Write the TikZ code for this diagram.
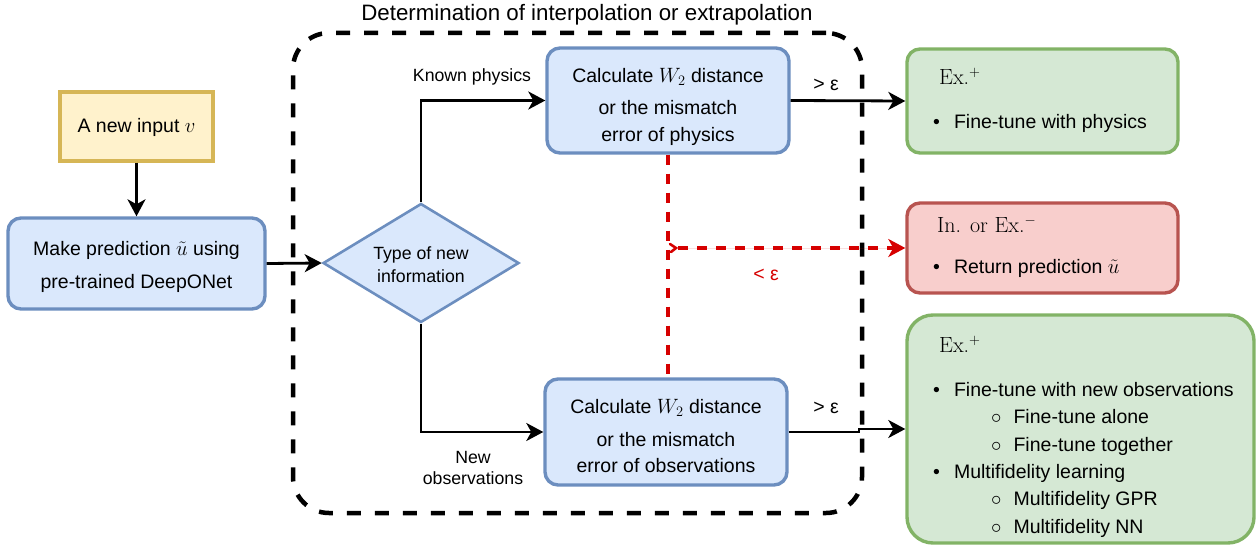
\documentclass[tikz,border=0pt]{standalone}
\usepackage{fontspec}
\setsansfont{Liberation Sans}
\usetikzlibrary{shapes.geometric,arrows.meta,calc}

\definecolor{blueFill}{HTML}{DAE8FC}
\definecolor{blueLine}{HTML}{6C8EBF}
\definecolor{yellowFill}{HTML}{FFF2CC}
\definecolor{yellowLine}{HTML}{D6B656}
\definecolor{greenFill}{HTML}{D5E8D4}
\definecolor{greenLine}{HTML}{82B366}
\definecolor{redFill}{HTML}{F8CECC}
\definecolor{redLine}{HTML}{B85450}
\definecolor{flowRed}{HTML}{D60000}

\begin{document}
\begin{tikzpicture}[x=1pt,y=-1pt,
  font=\sffamily\fontsize{19.5}{27}\selectfont,
  box/.style={draw, line width=3.4pt, rounded corners=13pt, inner sep=0pt},
  bluebox/.style={box, draw=blueLine, fill=blueFill},
  yellowbox/.style={box, rounded corners=0pt, draw=yellowLine, fill=yellowFill},
  greenbox/.style={box, draw=greenLine, fill=greenFill},
  redbox/.style={box, draw=redLine, fill=redFill},
  decision/.style={diamond, draw=blueLine, fill=blueFill, line width=2.6pt, inner sep=0pt,
    aspect=1.65},
  % text set on a known baseline
  txt/.style={anchor=base, inner sep=0pt},
  ltxt/.style={anchor=base west, inner sep=0pt},
  % multi-line text whose first baseline sits 20pt below the anchor
  block/.style={anchor=north, align=center, inner sep=0pt},
  small/.style={font=\sffamily\fontsize{17.7}{22}\selectfont},
  head/.style={font=\rmfamily\fontsize{22}{26}\selectfont},
  tip/.style={-{Stealth[length=17pt,width=18pt,inset=5pt]}},
  arr/.style={line width=2.8pt, tip},
  redarr/.style={line width=3.2pt, draw=flowRed, dash pattern=on 10pt off 9pt},
  frame/.style={draw, line width=4.5pt, dash pattern=on 14pt off 14pt, rounded corners=36pt}
]
\useasboundingbox (0,0) rectangle (1260,548);
\newcommand{\fs}{\rule{0pt}{20pt}}

% enclosing region
\node[frame, minimum width=569, minimum height=480, inner sep=0pt] (region) at (577.5,273) {};
\node[txt, font=\sffamily\fontsize{22.3}{26}\selectfont] (title) at (587,21)
  {Determination of interpolation or extrapolation};

% left column
\node[yellowbox, minimum width=153, minimum height=69] (input) at (136.5,126.5) {};
\node[txt] (inputtxt) at (136.5,133) {A new input $v$};
\node[bluebox, minimum width=257, minimum height=91] (pred) at (136.5,263.5) {};
\node[block] (predtxt) at (136.5,235)
  {\fs Make prediction $\tilde{u}$ using\\[6pt]pre-trained DeepONet};

% decision
\node[decision, minimum width=196, minimum height=119] (type) at (421,263) {};
\node[block, small] (typetxt) at (421,239) {\fs Type of new\\[1pt]information};

% distance checks
\node[bluebox, minimum width=242, minimum height=105] (calcP) at (668,100.5) {};
\node[block] (calcPtxt) at (668,62)
  {\fs Calculate $W_2$ distance\\[5pt]or the mismatch\\error of physics};
\node[bluebox, minimum width=242, minimum height=106] (calcO) at (666,432) {};
\node[block] (calcOtxt) at (666,393)
  {\fs Calculate $W_2$ distance\\[6pt]or the mismatch\\[-1pt]error of observations};

% outcomes
\node[greenbox, minimum width=271, minimum height=104] (exP) at (1042.5,101) {};
\node[ltxt, head] (exPhead) at (939,84.5) {Ex.$^{+}$};
\node[ltxt] (exP1) at (933,129) {\textbullet\hspace{14pt}Fine-tune with physics};

\node[redbox, minimum width=271, minimum height=90] (ret) at (1042.5,248) {};
\node[ltxt, head] (rethead) at (937,232.5) {In. or Ex.$^{-}$};
\node[ltxt] (ret1) at (933,273) {\textbullet\hspace{14pt}Return prediction $\tilde{u}$};

\node[greenbox, rounded corners=26pt, minimum width=347, minimum height=228] (exO) at (1080.5,429) {};
\node[ltxt, head] (exOhead) at (939,352.5) {Ex.$^{+}$};
\node[ltxt] (exO1) at (933,396) {\textbullet\hspace{14pt}Fine-tune with new observations};
\node[ltxt] (exO2) at (991,423) {$\circ$\hspace{12pt}Fine-tune alone};
\node[ltxt] (exO3) at (991,451) {$\circ$\hspace{12pt}Fine-tune together};
\node[ltxt] (exO4) at (933,478) {\textbullet\hspace{14pt}Multifidelity learning};
\node[ltxt] (exO5) at (991,505) {$\circ$\hspace{12pt}Multifidelity GPR};
\node[ltxt] (exO6) at (991,533) {$\circ$\hspace{12pt}Multifidelity NN};

% main flow
\draw[arr] (input) -- (pred);
\draw[arr] (pred.east) -- (type.west);
\draw[arr] (type.north) |- (calcP.west);
\draw[arr] (type.south) |- (calcO.west);
\node[txt, small] (lknown) at (472,82) {Known physics};
\node[block, small] (lnew) at (473,443) {\fs New\\[-1pt]observations};

\draw[arr] (calcP.east) -- (exP.west);
\node[txt] (gtP) at (826,91) {> ε};

\coordinate (bend) at (859,0);
\draw[arr] (calcO.east) -- (calcO.east -| bend) -- (bend |- exO.west) -- (exO.west);
\node[txt] (gtO) at (826,413) {> ε};

% below-threshold branch
\draw[redarr] (calcP.south) -- (calcP.south |- calcO.north);
\coordinate (jump) at (calcP.south |- ret.west);
\draw[draw=flowRed, line width=2.6pt, line cap=round]
  ($(jump)+(2,-4)$) -- ($(jump)+(8,0)$) -- ($(jump)+(3,4)$);
\draw[redarr, tip, fill=flowRed] ($(jump)+(10,0)$) -- (ret.west);
\node[txt, text=flowRed] (lt) at (766,280) {< ε};
\end{tikzpicture}
\end{document}
